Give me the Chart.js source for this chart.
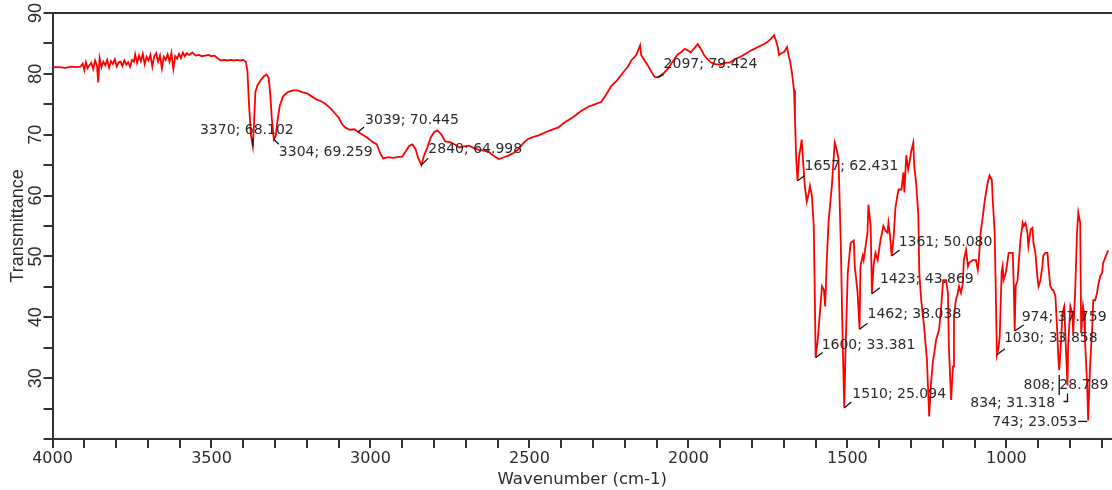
<!DOCTYPE html>
<html><head><meta charset="utf-8">
<script src="https://cdn.jsdelivr.net/npm/chart.js@4"></script>
<style>html,body{margin:0;padding:0;background:#fff;overflow:hidden}canvas{display:block}</style>
</head><body>
<canvas id="c" width="1112" height="490" style="width:1112px;height:490px"></canvas>
<script>
// ---- data: [wavenumber (cm-1), transmittance (%)] ----
const baselineRegion = [
 [3998,81.1],[3980,81.1],[3960,81.0],[3940,81.2],[3925,81.1],[3912,81.2],
 [3905,81.7],[3900,80.6],[3895,81.9],[3890,80.9],[3884,81.4],[3878,81.8],[3872,80.8],[3866,82.2],[3860,81.3],[3856,78.6],
 [3852,82.6],[3846,81.1],[3840,82.0],[3834,81.4],[3828,82.3],[3822,81.0],[3816,82.1],[3810,81.6],[3804,82.4],[3798,81.2],
 [3792,81.9],[3786,82.0],[3780,81.3],[3774,82.2],[3768,81.5],[3762,81.9],[3756,81.2],[3750,82.3],[3744,82.0],[3740,83.2],
 [3734,81.8],[3728,83.0],[3722,82.1],[3716,83.3],[3710,81.6],[3704,82.8],[3698,82.2],[3692,83.1],[3686,81.2],[3680,82.9],
 [3674,83.4],[3668,82.0],[3662,83.0],[3656,80.9],[3650,82.8],[3644,82.3],[3638,83.2],[3632,82.0],[3626,83.4],[3620,80.8],
 [3614,82.9],[3608,82.5],[3602,83.3],[3596,82.6],[3590,83.5],[3584,82.9],[3578,83.4],[3570,83.1],[3560,83.5],[3550,83.0],
 [3540,83.1],[3530,82.9],[3520,83.0],[3510,83.1],[3500,82.9],[3490,83.0],[3480,82.5],[3470,82.2],[3460,82.3],[3450,82.2],
 [3440,82.3],[3430,82.2],[3420,82.3],[3410,82.2],[3400,82.3],[3392,82.0]
];
const stretchRegion = [
 [3387,80.5],[3382,75.0],[3376,70.0],[3370,68.102],[3366,72.0],[3362,77.0],[3355,78.2],[3345,79.0],[3335,79.6],[3327,79.9],
 [3320,79.3],[3315,76.5],[3310,72.5],[3304,69.259],[3298,69.8],[3292,72.5],[3285,74.8],[3275,76.3],[3260,77.0],[3245,77.3],
 [3230,77.3],[3215,77.0],[3200,76.8],[3185,76.3],[3170,75.8],[3155,75.5],[3140,75.0],[3125,74.3],[3110,73.4],[3100,72.8],
 [3090,71.8],[3080,71.2],[3065,70.8],[3050,70.9],[3039,70.445],[3025,70.0],[3010,69.5],[2995,68.9],[2980,68.4],[2970,67.0],
 [2960,66.1],[2945,66.3],[2930,66.2],[2915,66.3],[2900,66.4],[2890,67.2],[2878,68.2],[2868,68.4],[2858,67.6],[2850,66.2],
 [2840,64.998],[2832,66.5],[2822,67.8],[2810,69.6],[2800,70.4],[2790,70.7],[2778,70.1],[2765,68.9],[2750,68.8],[2735,68.4],
 [2720,67.9],[2705,68.1],[2690,68.2],[2675,67.8],[2660,67.5],[2645,67.4],[2628,67.2],[2612,66.5],[2596,66.0],[2580,66.3],
 [2565,66.6],[2550,67.0],[2534,67.6],[2520,68.6],[2505,69.3]
];
const midRegion = [
 [2490,69.6],[2471,69.9],[2450,70.4],[2430,70.8],[2409,71.2],[2390,72.0],[2362,72.9],[2340,73.8],[2315,74.6],[2295,75.0],
 [2274,75.4],[2260,76.5],[2243,78.0],[2225,78.9],[2200,80.6],[2190,81.2],[2180,82.2],[2165,83.0],[2152,84.7],[2149,83.1],
 [2138,82.2],[2128,81.4],[2115,80.2],[2106,79.5],[2097,79.424],[2090,79.6],[2078,80.1],[2065,80.8],[2050,82.0],[2034,83.2],
 [2022,83.6],[2012,84.1],[2000,83.8],[1993,83.5],[1980,84.3],[1971,84.9],[1960,84.0],[1950,83.0],[1940,82.4],[1930,81.9],
 [1915,81.6],[1899,81.5],[1885,81.8],[1868,81.9],[1855,82.4],[1837,82.8],[1820,83.3],[1805,83.8],[1793,84.1],[1778,84.5],
 [1762,84.9],[1750,85.3],[1740,85.8],[1731,86.35],[1725,85.5],[1719,84.4],[1715,83.1],[1708,83.4],[1699,83.6],[1690,84.4]
];
const fingerprintRegion = [
 [1685,83.0],[1680,81.9],[1674,80.0],[1668,77.3],[1665,72.5],[1661,66.0],[1657,62.431],[1652,66.5],[1647,68.0],[1644,69.2],
 [1640,66.0],[1634,61.5],[1628,59.0],[1622,60.3],[1618,61.6],[1612,60.1],[1606,55.0],[1603,45.0],[1600,33.381],[1594,36.0],
 [1590,38.5],[1585,41.8],[1580,45.1],[1574,44.5],[1570,41.8],[1565,49.4],[1559,56.0],[1549,61.6],[1540,68.7],[1534,67.6],
 [1528,66.0],[1521,52.2],[1515,36.0],[1510,25.094],[1506,34.6],[1499,47.3],[1490,52.2],[1480,52.6],[1477,48.4],[1468,44.0],
 [1462,38.038],[1459,48.4],[1452,50.1],[1449,49.4],[1437,53.9],[1434,58.5],[1427,55.0],[1423,43.869],[1418,48.4],[1412,50.6],
 [1405,49.4],[1396,52.7],[1387,55.0],[1380,54.2],[1374,53.9],[1371,55.5],[1366,53.4],[1361,50.080],[1355,53.0],[1349,58.0],
 [1343,60.0],[1339,61.0],[1330,61.0],[1324,63.8],[1321,60.5],[1315,66.6],[1309,64.3],[1305,65.4],[1299,67.4],[1293,68.7],
 [1290,64.9],[1284,62.1],[1277,56.7],[1274,47.3],[1268,42.8],[1259,38.5],[1250,33.0],[1243,23.7],[1237,29.2],[1231,32.9],
 [1227,34.1],[1221,36.3],[1215,37.4],[1212,37.9],[1205,41.8],[1199,46.1],[1190,46.1],[1184,44.0],[1181,35.2],[1174,26.4],
 [1168,31.9],[1165,40.2],[1159,42.8],[1153,44.0],[1149,45.1],[1143,44.0],[1137,45.6],[1134,49.4],[1127,51.1],[1121,48.4],
 [1118,48.9],[1106,49.4],[1096,49.4],[1090,47.8],[1087,49.4],[1081,53.9],[1074,56.7],[1068,59.3],[1059,62.1],[1053,63.3],
 [1046,62.6],[1043,59.3],[1037,53.9],[1034,45.6],[1030,33.858],[1024,35.2],[1021,37.0],[1015,47.5],[1012,48.4],[1009,46.1],
 [1002,47.3],[996,49.4],[993,50.6],[987,50.6],[980,50.6],[977,45.1],[974,37.759],[971,45.1],[965,46.1],[962,48.4],
 [956,52.7],[949,55.5],[946,55.0],[940,55.5],[934,53.9],[931,51.7],[924,54.4],[918,54.7],[915,52.2],[909,50.6],
 [903,46.8],[899,45.1],[893,46.1],[887,48.4],[884,50.1],[878,50.6],[871,50.6],[868,48.4],[862,45.1],[856,44.5],
 [853,44.5],[846,43.5],[840,37.4],[837,33.5],[834,31.318],[828,36.3],[824,40.7],[818,41.8],[815,37.4],[808,28.789],
 [806,35.2],[799,41.8],[793,40.7],[790,37.4],[784,44.0],[778,53.9],[774,57.2],[768,55.5],[765,37.4],[759,41.8],
 [756,40.7],[753,36.3],[746,28.7],[743,23.053],[737,31.9],[730,38.5],[727,42.8],[721,42.8],[715,44.0],[712,45.1],
 [705,46.8],[699,47.3],[696,48.9],[687,50.1],[680,51.0]
];

// labelled peaks
const peakWavenumbers   = [3370, 3304, 3039, 2840, 2097, 1657, 1600, 1510, 1462, 1423, 1361, 1030, 974, 834, 808, 743];
const peakTransmittance = [68.102, 69.259, 70.445, 64.998, 79.424, 62.431, 33.381, 25.094, 38.038, 43.869, 50.080, 33.858, 37.759, 31.318, 28.789, 23.053];

// axis tick labels
const xTickLabels = [4000, 3500, 3000, 2500, 2000, 1500, 1000];
const yTickLabels = [30, 40, 50, 60, 70, 80, 90];

// ---- layout of the peak labels (offsets from the peak point, px) ----
const peakLabelLayout = [
 {dx:-6, dy:-16, align:'center', marker:[[0,0],[0,-8]]},
 {dx:5,  dy:13,  align:'left',   marker:[[0,0],[5,5]]},
 {dx:7,  dy:-12, align:'left',   marker:[[0,0],[6,-5]]},
 {dx:7,  dy:-16, align:'left',   marker:[[0,0],[7,-7]]},
 {dx:6,  dy:-13, align:'left',   marker:[[0,0],[6,-3]]},
 {dx:7,  dy:-14, align:'left',   marker:[[0,0],[7,-5]]},
 {dx:6,  dy:-12, align:'left',   marker:[[0,0],[7,-5]]},
 {dx:8,  dy:-14, align:'left',   marker:[[0,0],[7,-6]]},
 {dx:8,  dy:-15, align:'left',   marker:[[0,0],[8,-6]]},
 {dx:8,  dy:-14, align:'left',   marker:[[0,0],[8,-6]]},
 {dx:7,  dy:-14, align:'left',   marker:[[0,0],[8,-6]]},
 {dx:7,  dy:-16, align:'left',   marker:[[0,0],[8,-6]]},
 {dx:7,  dy:-14, align:'left',   marker:[[0,0],[9,-6]]},
 {dx:-4, dy:33,  align:'right',  marker:[[0,5],[0,25]]},
 {dx:-44,dy:0,   align:'left',   marker:[[0,8],[0,16],[-4,16]]},
 {dx:-11,dy:2,   align:'right',  marker:[[-1,1],[-10,1]]}
];

const spectrum = [...baselineRegion, ...stretchRegion, ...midRegion, ...fingerprintRegion]
  .map(([w, t]) => ({x: w, y: t}));

const TEXT = '#2b2b2b';
const AXIS = '#333';

const peakPlugin = {
  id: 'peakAnnotations',
  afterDatasetsDraw(chart) {
    const {ctx, chartArea, scales: {x, y}} = chart;
    ctx.save();
    // top frame line
    ctx.strokeStyle = AXIS; ctx.lineWidth = 2;
    ctx.beginPath();
    ctx.moveTo(chartArea.left - 1, chartArea.top);
    ctx.lineTo(chartArea.right, chartArea.top);
    ctx.stroke();
    ctx.font = '14px "DejaVu Sans"';
    ctx.textBaseline = 'middle';
    peakWavenumbers.forEach((wn, i) => {
      const t = peakTransmittance[i];
      const px = x.getPixelForValue(wn), py = y.getPixelForValue(t);
      const L = peakLabelLayout[i];
      ctx.strokeStyle = '#111'; ctx.lineWidth = 1.3;
      ctx.beginPath();
      L.marker.forEach(([mx, my], k) => k ? ctx.lineTo(px + mx, py + my) : ctx.moveTo(px + mx, py + my));
      ctx.stroke();
      ctx.fillStyle = TEXT;
      ctx.textAlign = L.align;
      ctx.fillText(wn + '; ' + t.toFixed(3), px + L.dx, py + L.dy);
    });
    ctx.restore();
  }
};

new Chart(document.getElementById('c'), {
  type: 'line',
  data: {
    datasets: [{
      data: spectrum,
      borderColor: '#ff0000',
      borderWidth: 1.8,
      pointRadius: 0,
      tension: 0,
      fill: false
    }]
  },
  options: {
    responsive: false,
    animation: false,
    parsing: false,
    layout: {padding: {top: 13, left: 0, right: 0, bottom: 0}},
    plugins: {legend: {display: false}, tooltip: {enabled: false}},
    scales: {
      x: {
        type: 'linear',
        reverse: true,
        min: 668,
        max: 4000,
        position: 'bottom',
        ticks: {
          stepSize: 100,
          autoSkip: false,
          includeBounds: false,
          maxRotation: 0,
          minRotation: 0,
          padding: 1,
          color: TEXT,
          font: {family: 'DejaVu Sans', size: 16},
          callback: v => xTickLabels.includes(v) ? String(v) : ''
        },
        grid: {display: true, drawOnChartArea: false, drawTicks: true, tickLength: 9, color: AXIS, lineWidth: 2},
        border: {display: true, color: AXIS, width: 2},
        title: {display: true, text: 'Wavenumber (cm-1)', color: TEXT,
                font: {family: 'DejaVu Sans', size: 16.5}, padding: {top: 0, bottom: 0}},
        afterFit: s => { s.height = 51; }
      },
      y: {
        type: 'linear',
        min: 20,
        max: 90,
        position: 'left',
        ticks: {
          stepSize: 5,
          autoSkip: false,
          minRotation: 90,
          maxRotation: 90,
          crossAlign: 'center',
          padding: -3,
          color: TEXT,
          font: {family: 'Liberation Sans', size: 18},
          callback: v => yTickLabels.includes(v) ? String(v) : ''
        },
        grid: {display: true, drawOnChartArea: false, drawTicks: true, tickLength: 9, color: AXIS, lineWidth: 2},
        border: {display: true, color: AXIS, width: 2},
        title: {display: true, text: 'Transmittance', color: TEXT,
                font: {family: 'Liberation Sans', size: 18}, padding: {top: 7, bottom: 0}},
        afterFit: s => { s.width = 52.5; }
      }
    }
  },
  plugins: [peakPlugin]
});
</script>
</body></html>
